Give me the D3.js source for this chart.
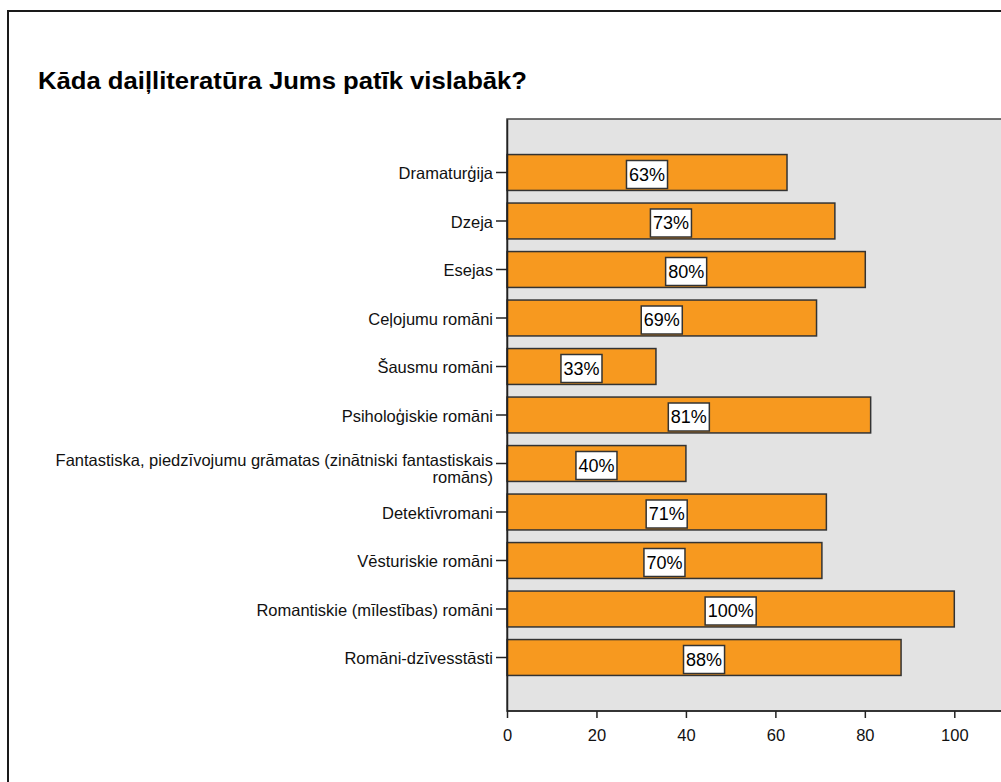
<!DOCTYPE html>
<meta charset="utf-8">
<style>
  body { margin: 0; background: #fff; }
  text { font-family: "Liberation Sans", Arial, sans-serif; }
</style>
<script src="https://d3js.org/d3.v7.min.js"></script>
<div id="my_dataviz"></div>
<script>

// data
var categories = [
  "Dramaturģija",
  "Dzeja",
  "Esejas",
  "Ceļojumu romāni",
  "Šausmu romāni",
  "Psiholoģiskie romāni",
  "Fantastiska, piedzīvojumu grāmatas (zinātniski fantastiskais|romāns)",
  "Detektīvromani",
  "Vēsturiskie romāni",
  "Romantiskie (mīlestības) romāni",
  "Romāni-dzīvesstāsti"
];
var values = [62.6, 73.3, 80.1, 69.2, 33.3, 81.3, 40.0, 71.4, 70.4, 100, 88.1];
var xTicks = [0, 20, 40, 60, 80, 100];
var title = "Kāda daiļliteratūra Jums patīk vislabāk?";

var W = 1001, H = 782;
var plot = {left: 507, top: 119, right: 1030, bottom: 711};

var svg = d3.select("#my_dataviz")
  .append("svg")
    .attr("width", W)
    .attr("height", H);

// outer frame
svg.append("rect")
  .attr("x", 8).attr("y", 11)
  .attr("width", W + 20).attr("height", H + 20)
  .attr("fill", "#fff")
  .attr("stroke", "#1a1a1a")
  .attr("stroke-width", 2);

svg.append("text")
  .attr("x", 38).attr("y", 89)
  .attr("textLength", 489)
  .attr("lengthAdjust", "spacingAndGlyphs")
  .style("font-size", "23.5px")
  .style("font-weight", "bold")
  .attr("fill", "#000")
  .text(title);

var x = d3.scaleLinear().domain([0, 100]).range([plot.left, 954.3]);
var y = d3.scaleBand()
  .domain(categories)
  .range([plot.top, plot.bottom])
  .paddingInner(0.26)
  .paddingOuter(0.733);

// plot background
svg.append("rect")
  .attr("x", plot.left).attr("y", plot.top)
  .attr("width", plot.right - plot.left)
  .attr("height", plot.bottom - plot.top)
  .attr("fill", "#e3e3e3")
  .attr("stroke", "#444")
  .attr("stroke-width", 1.5);

// bars
svg.selectAll(".bar")
  .data(categories)
  .enter()
  .append("rect")
    .attr("class", "bar")
    .attr("x", x(0))
    .attr("y", function(d) { return y(d); })
    .attr("width", function(d, i) { return x(values[i]) - x(0); })
    .attr("height", y.bandwidth())
    .attr("fill", "#f7991f")
    .attr("stroke", "#333")
    .attr("stroke-width", 1.5);

// value labels
var lab = svg.selectAll(".lab")
  .data(categories)
  .enter()
  .append("g")
    .attr("class", "lab")
    .attr("transform", function(d, i) {
      return "translate(" + (x(0) + x(values[i])) / 2 + "," + (y(d) + y.bandwidth() / 2 + 2) + ")";
    });

lab.append("text")
  .attr("text-anchor", "middle")
  .attr("dy", "0.35em")
  .style("font-size", "18px")
  .attr("fill", "#000")
  .text(function(d, i) { return Math.round(values[i]) + "%"; });

lab.each(function() {
  var g = d3.select(this);
  var bb = g.select("text").node().getBBox();
  g.insert("rect", "text")
    .attr("x", bb.x - 2.5)
    .attr("y", -14)
    .attr("width", bb.width + 5)
    .attr("height", 28)
    .attr("fill", "#fff")
    .attr("stroke", "#333")
    .attr("stroke-width", 1.5);
});

// y axis
var yAxis = svg.append("g")
  .attr("transform", "translate(" + plot.left + ",0)")
  .call(d3.axisLeft(y).tickSize(11).tickSizeOuter(0).tickFormat(""));
yAxis.select(".domain").attr("stroke", "#222").attr("stroke-width", 1.5);
yAxis.selectAll(".tick line").attr("stroke", "#222").attr("stroke-width", 1.5);

yAxis.selectAll(".tick").each(function(d) {
  var lines = d.split("|");
  var t = d3.select(this).append("text")
    .attr("text-anchor", "end")
    .attr("fill", "#111")
    .style("font-size", "16.5px");
  lines.forEach(function(l, k) {
    t.append("tspan")
      .attr("x", -14)
      .attr("y", lines.length > 1 ? k * 17 - 3 : 1)
      .attr("dy", "0.35em")
      .text(l);
  });
});

// x axis
var xAxis = svg.append("g")
  .attr("transform", "translate(0," + plot.bottom + ")")
  .call(d3.axisBottom(x).tickValues(xTicks).tickSize(7).tickPadding(11));
xAxis.select(".domain").remove();
xAxis.selectAll(".tick line").attr("stroke", "#222").attr("stroke-width", 1.5);
xAxis.selectAll(".tick text")
  .style("font-size", "16.5px")
  .style("font-family", "'Liberation Sans', Arial, sans-serif")
  .attr("fill", "#111");

svg.append("line")
  .attr("x1", plot.left).attr("x2", plot.right)
  .attr("y1", plot.bottom).attr("y2", plot.bottom)
  .attr("stroke", "#222").attr("stroke-width", 1.5);

</script>
